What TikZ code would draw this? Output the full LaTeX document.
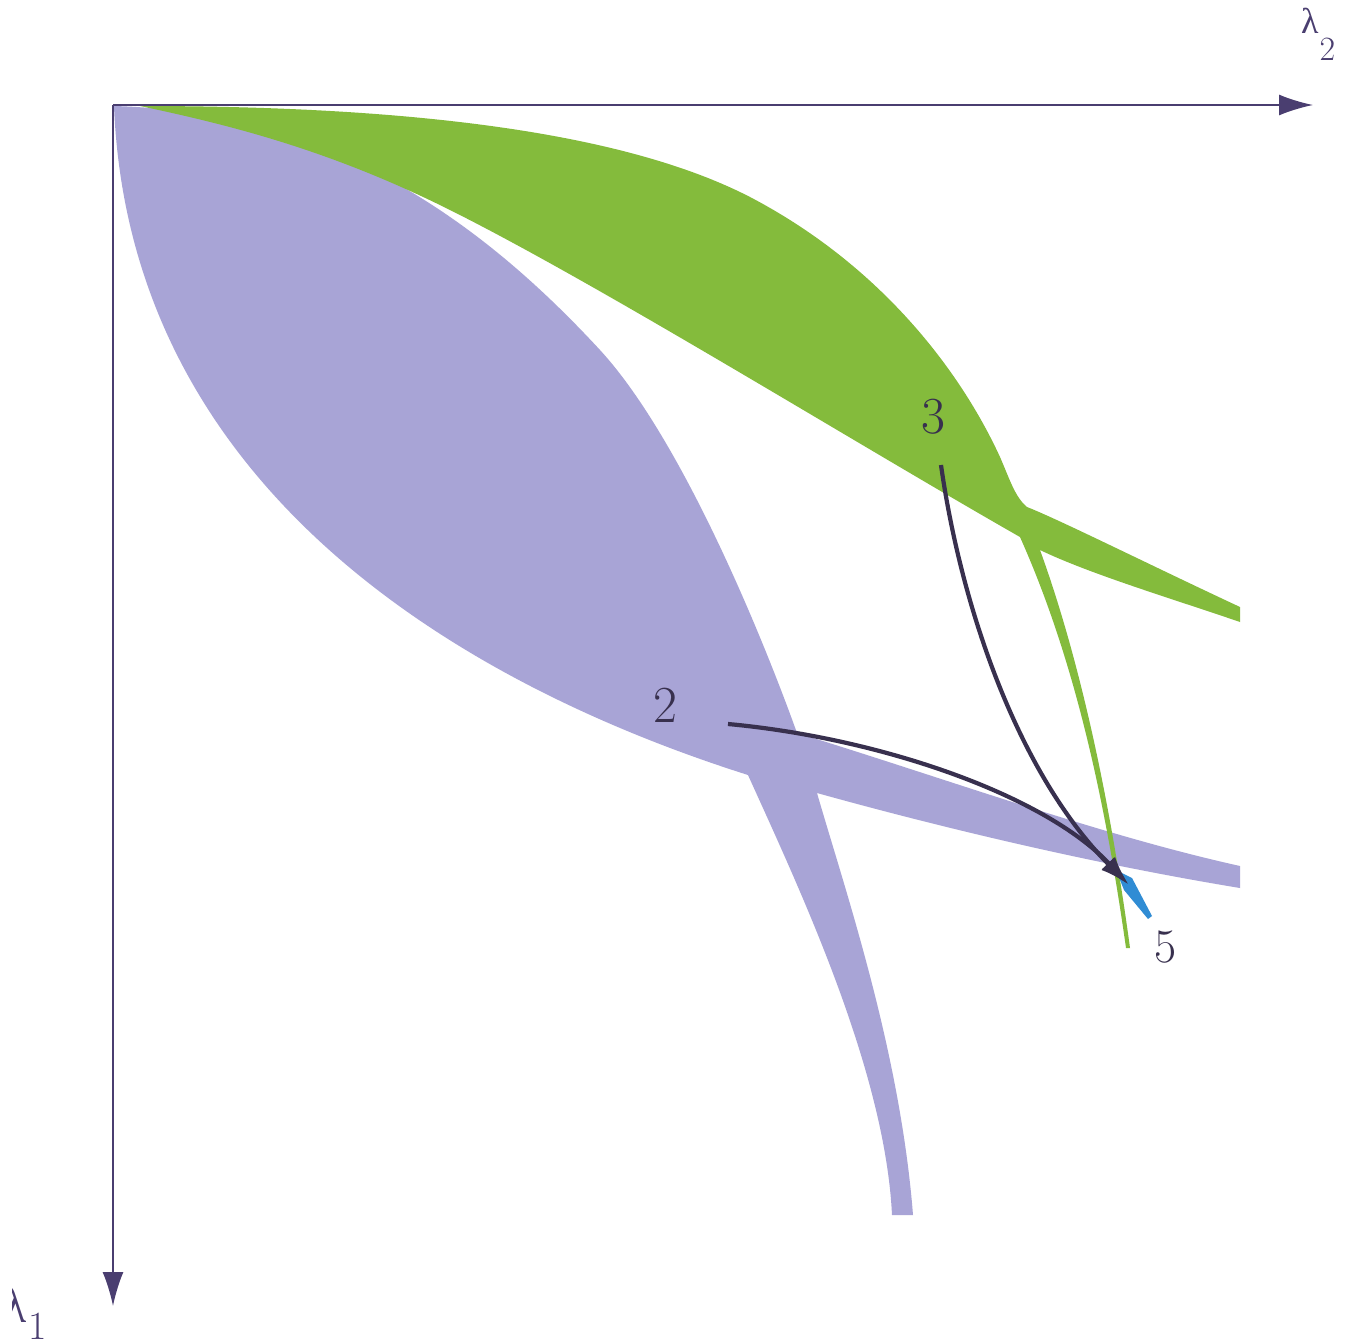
\documentclass[tikz,border=0pt]{standalone}
\usepackage{fontspec}
\newfontfamily\grk{Liberation Serif}
\usetikzlibrary{arrows.meta}
\definecolor{lav}{RGB}{168,164,214}
\definecolor{grn}{RGB}{132,187,60}
\definecolor{axc}{RGB}{74,62,112}
\definecolor{arc}{RGB}{56,48,78}
\definecolor{blu}{RGB}{48,140,212}
\tikzset{
  axisline/.style={draw=axc, line width=1.8pt, -{Latex[length=34pt,width=21pt]}},
  flowarrow/.style={draw=arc, line width=4.2pt, -{Latex[length=30pt,width=18pt]}},
  biglabel/.style={inner sep=0pt, anchor=base, text=arc, font=\fontsize{52}{60}\selectfont},
}
\begin{document}
\begin{tikzpicture}[x=1pt,y=-1pt]
\useasboundingbox (0,0) rectangle (1361,1344);
\fill[white] (0,0) rectangle (1361,1344);
% lavender region
\fill[lav] (114,106) .. controls (330,112) and (480,220) .. (600,350)
  .. controls (680,437) and (760,630) .. (797,733)
  .. controls (950,780) and (1100,835) .. (1240,866)
  -- (1240,888)
  .. controls (1100,865) and (950,830) .. (817,793)
  .. controls (845,890) and (900,1050) .. (913,1215)
  -- (892,1215)
  .. controls (885,1070) and (800,890) .. (748,775)
  .. controls (480,690) and (130,500) .. (114,106)
  -- cycle;
% green region
\fill[grn] (140,106) .. controls (400,106) and (620,130) .. (750,197)
  .. controls (880,265) and (960,370) .. (1000,457)
  .. controls (1010,480) and (1015,497) .. (1027,507)
  .. controls (1060,520) and (1150,565) .. (1240,607)
  -- (1240,622)
  .. controls (1170,598) and (1090,574) .. (1040,550)
  .. controls (1080,660) and (1110,800) .. (1130,948)
  -- (1126,948)
  .. controls (1105,800) and (1075,660) .. (1020,537)
  .. controls (850,440) and (600,285) .. (450,210)
  .. controls (330,150) and (230,125) .. (140,106)
  -- cycle;
% blue streak near 5
\fill[blu] (1116,870) -- (1132,878) -- (1152,916) -- (1148,919) -- (1124,890) -- cycle;
% axes
\coordinate (O) at (113,105);
\coordinate (X) at (1313,105);
\coordinate (Y) at (113,1306);
\draw[axisline] (O) -- (X);
\draw[axisline] (O) -- (Y);
\node[inner sep=0pt, anchor=base west, text=axc] (l2) at (1301,33)
  {{\grk\fontsize{36}{40}\selectfont λ}\kern1pt\raisebox{-27pt}{\fontsize{34}{40}\selectfont 2}};
\begin{scope}
\clip (12,1240) rectangle (200,1344);
\node[inner sep=0pt, anchor=base west, text=axc] (l1) at (2,1322)
  {{\grk\fontsize{50}{56}\selectfont λ}\kern2pt\raisebox{-17pt}{\fontsize{40}{46}\selectfont 1}};
\end{scope}
% labels
\node[biglabel] (n2) at (665,722) {2};
\node[biglabel] (n3) at (933,433) {3};
\node[biglabel, font=\fontsize{48}{56}\selectfont] (n5) at (1166,962) {5};
% connectors
\coordinate (s2) at (728,724);
\coordinate (s3) at (941,465);
\coordinate (e5) at (1129,885);
\draw[flowarrow] (s3) .. controls (960,600) and (1015,770) .. (e5);
\draw[flowarrow] (s2) .. controls (880,738) and (1045,795) .. (e5);
\end{tikzpicture}
\end{document}
